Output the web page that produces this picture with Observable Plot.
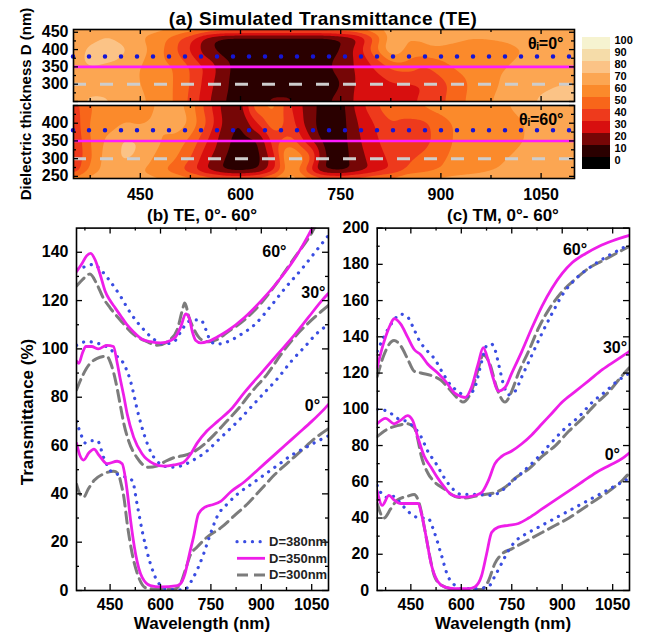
<!DOCTYPE html>
<html><head><meta charset="utf-8">
<script src="https://cdn.jsdelivr.net/npm/d3@7"></script>
<script src="https://cdn.jsdelivr.net/npm/@observablehq/plot@0.6"></script>
<style>
body{margin:0;background:#fff;}
#fig{position:relative;width:652px;height:632px;font-family:'Liberation Sans',Arial,sans-serif;font-weight:bold;color:#000;overflow:hidden;background:#fff;}
.lbl{position:absolute;white-space:nowrap;line-height:1;transform:translate(-50%,-50%);}
svg{overflow:visible}
</style></head><body><div id="fig"></div><script>
// ---------- heat map data (panel a) ----------
const wl = [350,375,400,425,450,475,500,525,550,575,600,625,650,675,700,725,750,775,800,825,850,875,900,925,950,975,1000,1025,1050,1075,1100];
const thick = [250,300,350,400,450];
const te0 = [
  [65,72,72,66,62,57,50,38,22,10,5,7,12,12,6,8,14,22,27,28,28,32,38,46,55,60,63,67,72,73,72],
  [65,66,65,63,60,57,50,40,25,12,5,5,5,5,5,5,9,22,27,28,28,30,36,45,53,58,62,65,68,70,70],
  [68,70,66,63,60,55,50,40,28,14,5,4,4,4,4,7,15,22,30,42,45,38,45,52,56,58,60,62,63,64,64],
  [65,72,82,72,65,55,42,28,12,5,4,4,4,4,4,4,10,25,48,70,58,57,57,56,56,57,58,60,63,64,64],
  [62,64,66,64,60,55,47,35,15,6,5,5,5,5,5,5,9,15,35,62,60,63,72,66,62,62,63,64,65,66,66]
];
const te60 = [
  [30,55,63,63,57,50,42,30,16,7,5,10,30,60,30,8,5,12,22,30,45,48,52,55,57,60,63,66,68,70,70],
  [30,48,65,72,68,57,52,40,22,10,3,5,25,68,50,10,5,15,25,32,38,42,48,54,56,58,60,62,64,66,66],
  [30,50,62,72,70,62,55,48,30,14,4,8,35,45,25,6,5,18,28,35,35,36,45,52,55,56,58,60,62,63,63],
  [32,52,55,60,58,62,72,58,40,18,8,30,50,35,15,5,5,20,30,40,36,37,45,52,55,56,58,60,62,63,63],
  [35,50,55,56,57,60,65,55,35,15,15,50,55,30,15,6,5,25,38,48,50,52,55,56,57,58,60,62,63,64,64]
];
const bandStarts = [0,10,20,30,40,50,60,70,80,90];
const bandColors = ["#2a0000","#760606","#d80f0f","#ee3a1c","#f8661a","#fb8a2b","#fca652","#fbc386","#f5dca9","#f6f3d0"];
const cbLabels = ["100","90","80","70","60","50","40","30","20","10","0"];
const heatYTop = [300,350,400,450];
const heatYBot = [250,300,350,400];
const heatXLabels = [450,600,750,900,1050];
const markedD = [380,350,300];

// ---------- line data (panels b, c) ----------
const te60_380 = [[350,133],[375,134],[400,135],[420,133],[450,128],[480,122],[510,115],[550,108],[580,104],[610,102],[640,103],[660,107],[680,111],[700,112],[720,112],[735,108],[750,103],[770,102],[800,103],[840,106],[880,110],[930,118],[970,125],[1020,133],[1060,140],[1100,147]];
const te60_350 = [[350,132],[365,135],[380,138.5],[392,139.5],[405,137],[420,131],[435,124],[450,120],[465,117],[480,114],[500,110],[520,107],[545,104],[570,103],[600,102.5],[630,103.5],[645,105],[660,109],[675,114.5],[685,113],[695,107],[705,103.5],[720,102.5],[740,103],[770,105],[800,107.5],[850,113],[900,120],[950,128],[1000,137.5],[1040,147],[1055,151]];
const te60_300 = [[350,126],[370,129],[390,131],[410,127],[430,121],[450,117],[480,112],[520,106],[560,103],[590,101.5],[630,104],[650,108],[665,116],[672,119],[685,113],[700,108],[720,104],[745,103],[770,104],[800,107],[850,112],[900,119],[950,128],[1000,138],[1050,148],[1060,150.5]];
const te30_380 = [[350,101.5],[380,103],[420,102],[450,100],[470,97],[490,94],[510,87],[534,73],[554,63.4],[574,56.6],[599,52.4],[629,51],[659,51.5],[698,54],[738,57.7],[770,62],[800,66],[830,70],[870,76],[910,82],[950,88],[990,95],[1030,101],[1070,107],[1100,110]];
const te30_350 = [[350,95],[357,94],[367,98],[378,101],[395,101],[415,100],[440,101.5],[460,101],[470,95],[481,87],[490,81],[501,73],[520,63.5],[545,56.6],[580,52.5],[610,51.5],[640,52],[668,53],[690,56.5],[709,61],[738,66],[770,70],[810,75],[850,82],[900,90],[950,98],[1000,106],[1040,113],[1080,120],[1100,123]];
const te30_300 = [[350,83],[365,88],[380,92],[410,96],[440,97],[452,94],[466,87],[480,77],[491,69],[505,62],[530,55],[564,51],[589,51.5],[615,53.5],[640,55],[673,56],[700,57.5],[730,60.5],[760,64.5],[790,69],[830,75],[870,82],[920,90],[960,98],[1000,105],[1050,112],[1100,118]];
const te0_380 = [[350,70],[365,64],[377,61],[395,62],[412,62],[431,55],[451,49.6],[481,47.6],[516,45.5],[530,36],[545,25],[568,12],[590,4],[620,0.5],[670,0.3],[698,5.5],[728,15],[745,22],[770,31],[800,36],[830,40],[870,44],[910,48],[950,52],[990,56],[1030,59],[1070,62],[1100,64]];
const te0_350 = [[350,61],[360,56],[371,54],[387,57],[402,58.5],[417,56],[441,52.5],[471,53.5],[486,52.5],[496,46],[501,41],[511,29],[526,15],[545,5.5],[570,2],[600,1.5],[650,2],[665,4],[673,7],[686,15],[698,22],[713,31.7],[735,34.7],[755,35.5],[780,37],[810,41],[850,45],[890,50],[930,55],[970,60],[1010,65],[1050,70],[1090,75.5],[1100,77]];
const te0_300 = [[350,44],[360,40],[371,38.6],[385,42],[402,45.5],[431,48.3],[461,49.4],[475,48],[483,44],[491,38.6],[501,27.6],[516,15],[535,5.5],[558,1],[600,0.5],[640,0.5],[660,3],[675,9],[690,15],[709,18],[738,22],[780,26],[820,31],[860,36],[900,42],[940,48],[980,53],[1020,58],[1060,63],[1100,67]];

const tm60_380 = [[350,132],[370,140],[395,148],[420,152.5],[440,151],[455,146],[475,138],[500,132],[520,128],[545,120],[570,113],[590,110],[615,107],[640,112],[660,126],[675,135],[690,136],[700,133],[712,124],[725,114],[740,108],[760,110],[780,118],[810,130],[840,142],[870,153],[900,163],[940,172],[980,178],[1030,184],[1080,189],[1100,191]];
const tm60_350 = [[350,123],[362,132],[375,140],[390,147],[400,150],[420,147],[440,140],[460,133],[480,130],[500,125],[530,120],[555,115],[580,109],[600,107],[612,106.5],[630,112],[650,125],[665,134],[680,127],[695,117],[710,110],[730,112],[750,120],[780,132],[810,145],[840,157],[870,167],[900,175],[930,181],[970,186],[1010,190],[1050,193],[1100,196]];
const tm60_300 = [[350,118],[370,130],[400,138],[420,135],[440,128],[460,121],[480,120],[520,118],[540,116],[560,112],[590,106],[605,104],[630,110],[650,122],[665,130],[685,125],[705,112],[730,104],[750,110],[770,120],[800,132],[830,145],[860,155],[900,165],[940,172],[980,178],[1020,182],[1060,186],[1100,190]];
const tm30_380 = [[350,100],[380,99],[410,95],[440,93],[460,90],[480,85],[500,77],[525,70],[550,62],[575,56],[600,53],[650,53],[690,52.5],[720,55],[750,60],[780,65],[820,72],[860,80],[900,88],[950,96],[990,104],[1030,110],[1060,115],[1100,120]];
const tm30_350 = [[350,92],[375,95],[400,92],[420,94],[440,96.5],[455,94],[470,85],[490,74],[510,68],[530,62],[550,57],[570,53],[600,51.5],[630,52],[660,54],[680,60.5],[700,70],[720,74],[750,77],[780,81],[810,86],[840,92],[870,98],[900,104],[940,110],[980,116],[1020,122],[1060,127],[1100,132]];
const tm30_300 = [[350,85],[380,89],[410,91],[440,92],[460,90],[470,84],[480,75],[500,65],[520,60],[550,56],[580,52],[610,51],[640,52],[670,53],[700,54],[730,57],[760,62],[800,67],[840,74],[880,80],[920,88],[960,95],[1000,103],[1040,110],[1080,119],[1100,123]];
const tm0_380 = [[350,58],[370,52],[390,51],[400,52],[420,48],[440,44],[460,41],[480,40],[500,40],[520,32],[540,20],[560,8],[580,3],[600,1],[640,1],[680,2],[700,8],[720,15],[740,22],[760,27],[790,31],[820,34],[850,37],[880,40],[920,44],[960,48],[1000,52],[1040,56],[1080,60],[1100,62]];
const tm0_350 = [[350,55],[365,47],[385,52.5],[400,50],[420,48],[450,48],[472,48],[482,42],[495,30],[510,15],[530,5],[550,2],[580,1],[620,1],[640,2],[660,8],[675,20],[690,32],[710,35],[740,36],[770,37],[800,40],[840,45],[880,50],[920,55],[960,60],[1000,65],[1040,69],[1080,73],[1100,76]];
const tm0_300 = [[350,48],[370,40],[390,45],[410,50],[440,52],[460,53],[475,48],[490,35],[505,20],[520,8],[540,3],[570,1],[620,0.5],[660,0.5],[680,5],[700,15],[720,20],[750,23],[780,26],[810,29],[840,32],[880,36],[920,40],[960,45],[1000,50],[1040,55],[1080,61],[1100,65]];

const lineXLabels = [450,600,750,900,1050];
const teYLabels = [0,20,40,60,80,100,120,140];
const tmYLabels = [0,20,40,60,80,100,120,140,160,180,200];
const teAngleLabels = [{x:939,y:140,t:"60°"},{x:1055,y:123,t:"30°"},{x:1052,y:76.5,t:"0°"}];
const tmAngleLabels = [{x:938,y:188,t:"60°"},{x:1057,y:134,t:"30°"},{x:1049,y:75,t:"0°"}];
const legendNames = ["D=380nm","D=350nm","D=300nm"];

// ---------- helpers ----------
const fig = document.getElementById("fig");
const FONT = "'Liberation Sans', Arial, sans-serif";
function place(node, left, top){ node.style.position="absolute"; node.style.left=left+"px"; node.style.top=top+"px"; fig.appendChild(node); }
function label(text, x, y, size, rot){
  const d=document.createElement("div"); d.className="lbl"; d.textContent=text;
  d.style.left=x+"px"; d.style.top=y+"px"; d.style.fontSize=size+"px";
  if(rot) d.style.transform="translate(-50%,-50%) rotate(-90deg)";
  fig.appendChild(d);
  return d;
}
function frameTicks(xMaj, xMin, yMaj, yMin, fw, fh, lMaj, lMin){
  const tk = {stroke:"black", strokeWidth:1.3};
  const m = [];
  for (const [vals,len] of [[xMaj,lMaj],[xMin,lMin]]) {
    m.push(Plot.tickX(vals,{x:d=>d, insetTop: fh-len, ...tk}));
    m.push(Plot.tickX(vals,{x:d=>d, insetBottom: fh-len, ...tk}));
  }
  for (const [vals,len] of [[yMaj,lMaj],[yMin,lMin]]) {
    m.push(Plot.tickY(vals,{y:d=>d, insetRight: fw-len, ...tk}));
    m.push(Plot.tickY(vals,{y:d=>d, insetLeft: fw-len, ...tk}));
  }
  return m;
}
const baseStyle = {background:"none", fontFamily:FONT, fontSize:"16px", fontWeight:"bold", overflow:"visible", color:"black"};

// ---------- panel (a) ----------
function gridPoints(grid){
  return grid.flatMap((row, j) => row.map((v, i) => ({x: wl[i], y: thick[j], v})));
}
function heatPanel(grid, yDomain, yLabels, top, h, mt, mb, showX, angleText){
  const ml=73, mr=78, W=652;
  const fw = W-ml-mr, fh = h-mt-mb;
  const p = Plot.plot({
    width: W, height: h, marginLeft: ml, marginRight: mr, marginTop: mt, marginBottom: mb,
    style: baseStyle,
    x: {domain:[wl[0], wl[wl.length-1]], axis: null},
    y: {domain: yDomain, axis: null},
    color: {type:"threshold", domain: bandStarts.slice(1), range: bandColors},
    marks: [
      Plot.contour(gridPoints(grid), {x:"x", y:"y", fill:"v", interpolate:"barycentric",
        pixelSize: 1, blur: 4, thresholds: bandStarts, clip: true}),
      Plot.ruleY([markedD[0]], {stroke:"#1616d4", strokeWidth:4.5, strokeDasharray:"0,16", strokeLinecap:"round"}),
      Plot.ruleY([markedD[1]], {stroke:"#ff1cff", strokeWidth:2.6}),
      Plot.ruleY([markedD[2]], {stroke:"#cdcdcd", strokeWidth:3, strokeDasharray:"13,14"}),
      Plot.frame({stroke:"black", strokeWidth:1.6}),
      ...frameTicks(heatXLabels, d3.range(375,1100,150), d3.range(250,451,50), d3.range(275,451,50), fw, fh, 5, 3),
      Plot.axisY({ticks: yLabels, tickSize:0, tickPadding:5, tickFormat:d=>String(d), label:null}),
      showX ? Plot.axisX({ticks: heatXLabels, tickSize:0, tickPadding:10, tickFormat:d=>String(d), label:null}) : null,
      Plot.text([angleText], {frameAnchor:"top-right", dx:-11, dy:14, lineAnchor:"middle", fontSize:16, fontWeight:"bold"})
    ]
  });
  place(p, 0, top);
}
heatPanel(te0, [250,458], heatYTop, 0, 103, 29, 2, false, "θᵢ=0°");
heatPanel(te60, [244,450], heatYBot, 103, 100, 2, 25, true, "θᵢ=60°");

// colour bar
const cbColors = [...bandColors].reverse().concat(["#000000"]);
const cb = Plot.plot({
  width: 77, height: 150, marginLeft: 7, marginRight: 42, marginTop: 7, marginBottom: 11,
  style: {...baseStyle, fontSize:"11px"},
  x: {domain:[0,1], axis:null},
  y: {type:"band", domain: cbLabels, padding:0, axis:null},
  color: {type:"identity"},
  marks: [
    Plot.cell(cbLabels, {y: d=>d, fill:(d,i)=>cbColors[i]}),
    Plot.axisY({anchor:"right", tickSize:0, tickPadding:4, dy:-3, label:null})
  ]
});
place(cb, 575, 30);

label("(a) Simulated Transmittance (TE)", 323, 18, 19).style.letterSpacing = "0.4px";
label("Dielectric thickness D (nm)", 25, 104, 15, true);

// ---------- panels (b), (c) ----------
const styles = {
  "300": {stroke:"#7c7c7c", strokeWidth:3, strokeDasharray:"11,6"},
  "380": {stroke:"#3a4de2", strokeWidth:3.2, strokeDasharray:"0.1,7.6", strokeLinecap:"round"},
  "350": {stroke:"#ee1ee8", strokeWidth:2.8}
};
function linePanel(curves, yLabels, left, width, ml, mr, angleLabels){
  const H=412, mt=27.6, mb=22;
  const fw = width-ml-mr, fh = H-mt-mb;
  const yMax = yLabels[yLabels.length-1] + (yLabels.length < 10 ? 10 : 0);
  const rows = curves.flatMap(c => c.pts.map(([x,y]) => ({x, y, d:c.d, a:c.a})));
  const p = Plot.plot({
    width, height:H, marginLeft:ml, marginRight:mr, marginTop:mt, marginBottom:mb,
    style: baseStyle,
    x: {domain:[350,1100], axis:null},
    y: {domain:[0,yMax], axis:null},
    marks: [
      ...["300","380","350"].map(k => Plot.line(rows.filter(r=>r.d===k), {x:"x", y:"y", z:"a", curve:"monotone-x", clip:true, ...styles[k]})),
      Plot.frame({stroke:"black", strokeWidth:1.6}),
      ...frameTicks(lineXLabels, d3.range(375,1100,150), yLabels, d3.range(10,yMax,20), fw, fh, 6, 3),
      Plot.axisY({ticks:yLabels, tickSize:0, tickPadding:8, tickFormat:d=>String(d), label:null}),
      Plot.axisX({ticks:lineXLabels, tickSize:0, tickPadding:8, tickFormat:d=>String(d), label:null}),
      Plot.text(angleLabels, {x:"x", y:"y", text:"t", fontSize:16, fontWeight:"bold"})
    ]
  });
  place(p, left, 200);
}
linePanel([
  {d:"380",a:0,pts:te0_380},{d:"350",a:0,pts:te0_350},{d:"300",a:0,pts:te0_300},
  {d:"380",a:30,pts:te30_380},{d:"350",a:30,pts:te30_350},{d:"300",a:30,pts:te30_300},
  {d:"380",a:60,pts:te60_380},{d:"350",a:60,pts:te60_350},{d:"300",a:60,pts:te60_300}
], teYLabels, 0, 340, 76, 12, teAngleLabels);
linePanel([
  {d:"380",a:0,pts:tm0_380},{d:"350",a:0,pts:tm0_350},{d:"300",a:0,pts:tm0_300},
  {d:"380",a:30,pts:tm30_380},{d:"350",a:30,pts:tm30_350},{d:"300",a:30,pts:tm30_300},
  {d:"380",a:60,pts:tm60_380},{d:"350",a:60,pts:tm60_350},{d:"300",a:60,pts:tm60_300}
], tmYLabels, 330, 322, 46.7, 23, tmAngleLabels);

label("(b) TE, 0°- 60°", 202, 215, 17);
label("(c) TM, 0°- 60°", 503, 215, 17);
label("Wavelength (nm)", 202, 623, 17);
label("Wavelength (nm)", 503, 623, 17);
label("Transmittance (%)", 27, 412, 17, true);

// legend in (b)
const lg = d3.create("svg").attr("width",100).attr("height",50).style("overflow","visible");
["380","350","300"].forEach((k,i) => {
  const y = 8.7 + i*16.6;
  const s = styles[k];
  lg.append("line").attr("x1",7).attr("x2",35).attr("y1",y).attr("y2",y)
    .attr("stroke",s.stroke).attr("stroke-width",s.strokeWidth)
    .attr("stroke-dasharray", s.strokeDasharray || null).attr("stroke-linecap", s.strokeLinecap || null);
  lg.append("text").attr("x",39).attr("y",y).attr("dy","0.35em").attr("font-size",13)
    .attr("font-weight","bold").attr("font-family",FONT).attr("fill","#222").text(legendNames[i]);
});
place(lg.node(), 230, 533);
</script></body></html>
